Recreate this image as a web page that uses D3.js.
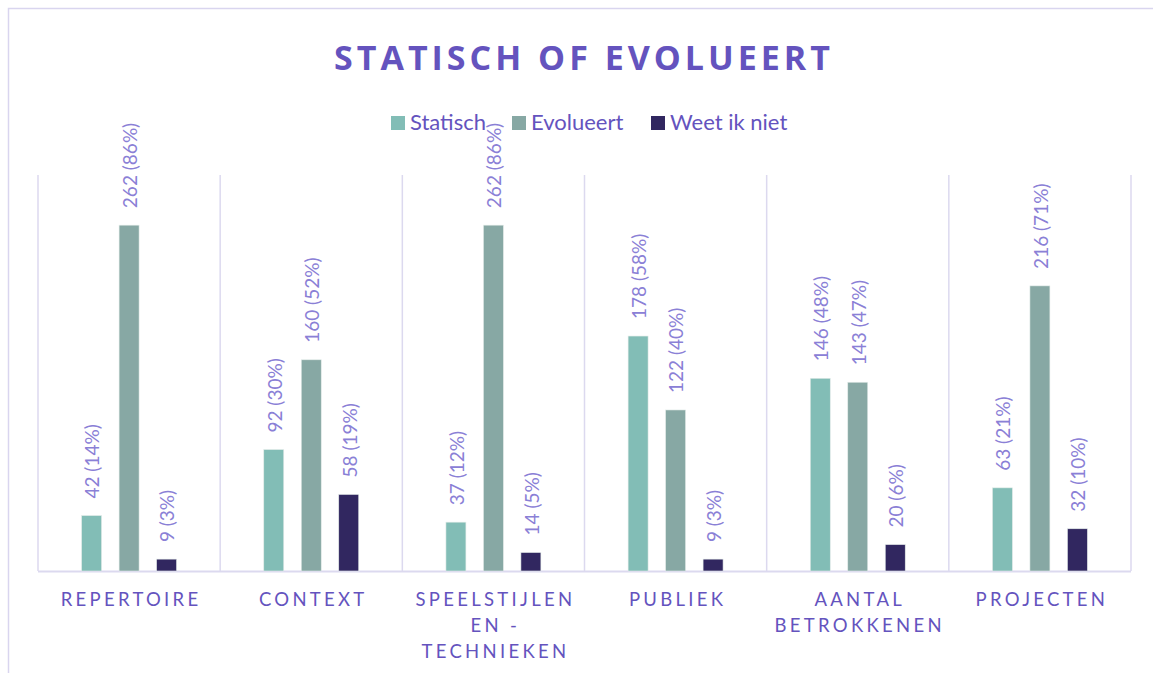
<!DOCTYPE html>
<html>
<head>
<meta charset="utf-8">
<script src="https://cdn.jsdelivr.net/npm/d3@7"></script>
<style>
  html, body { margin: 0; padding: 0; background: #fff; }
</style>
</head>
<body>
<svg id="chart"></svg>
<script>
// Data
const categories = ["REPERTOIRE", "CONTEXT", "SPEELSTIJLEN EN - TECHNIEKEN", "PUBLIEK", "AANTAL BETROKKENEN", "PROJECTEN"];
const categoryLines = [["REPERTOIRE"], ["CONTEXT"], ["SPEELSTIJLEN", "EN -", "TECHNIEKEN"], ["PUBLIEK"], ["AANTAL", "BETROKKENEN"], ["PROJECTEN"]];
const seriesNames = ["Statisch", "Evolueert", "Weet ik niet"];
const statisch = [42, 92, 37, 178, 146, 63];
const evolueert = [262, 160, 262, 122, 143, 216];
const weetIkNiet = [9, 58, 14, 9, 20, 32];
const statischPct = [14, 30, 12, 58, 48, 21];
const evolueertPct = [86, 52, 86, 40, 47, 71];
const weetIkNietPct = [3, 19, 5, 3, 6, 10];
const colors = ["#82bdb6", "#87a8a4", "#312760"];

const width = 1153;
const height = 673;
const marginTop = 175;
const marginRight = 22;
const marginBottom = 102;
const marginLeft = 38;

const values = [statisch, evolueert, weetIkNiet];
const pcts = [statischPct, evolueertPct, weetIkNietPct];
const data = [];
categories.forEach((c, i) => {
  seriesNames.forEach((s, j) => {
    data.push({ cat: c, series: s, value: values[j][i], pct: pcts[j][i], idx: j });
  });
});

const svg = d3.select("#chart")
  .attr("width", width)
  .attr("height", height)
  .attr("viewBox", [0, 0, width, height]);

// Chart border
svg.append("rect")
  .attr("x", 8.5).attr("y", 8.5)
  .attr("width", width + 10).attr("height", height + 10)
  .attr("fill", "none")
  .attr("stroke", "#d9d5ef")
  .attr("stroke-width", 1.5);

// Scales
const x = d3.scaleBand()
  .domain(categories)
  .range([marginLeft, width - marginRight]);

const xInner = d3.scaleBand()
  .domain(seriesNames)
  .range([0, x.bandwidth()])
  .paddingInner(0.467)
  .paddingOuter(1.163);

const y = d3.scaleLinear()
  .domain([0, 300])
  .range([height - marginBottom, marginTop]);

// Title
svg.append("text")
  .attr("x", 584)
  .attr("y", 70)
  .attr("text-anchor", "middle")
  .attr("fill", "#6453be")
  .attr("font-family", "'Open Sans', sans-serif")
  .attr("font-weight", "bold")
  .attr("font-size", 34)
  .attr("letter-spacing", 4)
  .text("STATISCH OF EVOLUEERT");

// Legend
const legendX = [391, 512, 651];
const legend = svg.append("g")
  .selectAll("g")
  .data(seriesNames)
  .join("g")
  .attr("transform", (d, i) => `translate(${legendX[i]},116)`);
legend.append("rect")
  .attr("width", 14).attr("height", 14)
  .attr("fill", (d, i) => colors[i]);
legend.append("text")
  .attr("x", 19).attr("y", 14)
  .attr("fill", "#6453be")
  .attr("font-family", "Lato, sans-serif")
  .attr("font-size", 22)
  .text((d) => d);

// Category separators
const grid = svg.append("g").attr("stroke", "#dcd9ef").attr("stroke-width", 1.5);
const seps = categories.map((c) => x(c)).concat([width - marginRight]);
grid.selectAll("line")
  .data(seps)
  .join("line")
  .attr("x1", (d) => d).attr("x2", (d) => d)
  .attr("y1", marginTop).attr("y2", height - marginBottom);
grid.append("line")
  .attr("x1", marginLeft).attr("x2", width - marginRight)
  .attr("y1", height - marginBottom + 0.5).attr("y2", height - marginBottom + 0.5)
  .attr("stroke-width", 2);

// Bars
svg.append("g")
  .selectAll("rect")
  .data(data)
  .join("rect")
  .attr("x", (d) => x(d.cat) + xInner(d.series))
  .attr("y", (d) => y(d.value))
  .attr("width", xInner.bandwidth())
  .attr("height", (d) => y(0) - y(d.value))
  .attr("fill", (d) => colors[d.idx])
  .attr("stroke", "#e4ece9")
  .attr("stroke-width", 0.6);

// Value labels
svg.append("g")
  .attr("fill", "#8a80d6")
  .attr("font-family", "Lato, sans-serif")
  .attr("font-size", 19)
  .selectAll("text")
  .data(data)
  .join("text")
  .attr("transform", (d) => {
    const cx = x(d.cat) + xInner(d.series) + xInner.bandwidth() / 2 + 1;
    return `translate(${cx},${y(d.value) - 17}) rotate(-90)`;
  })
  .attr("dy", "0.36em")
  .text((d) => `${d.value} (${d.pct}%)`);

// Category labels
const xAxis = svg.append("g")
  .attr("fill", "#6453be")
  .attr("font-family", "Lato, sans-serif")
  .attr("font-size", 18.5)
  .attr("letter-spacing", 3.3)
  .attr("text-anchor", "middle");
categories.forEach((c, i) => {
  const cx = x(c) + x.bandwidth() / 2 + 2;
  const t = xAxis.append("text")
    .attr("x", cx)
    .attr("y", 606);
  categoryLines[i].forEach((line, k) => {
    t.append("tspan")
      .attr("x", cx)
      .attr("dy", k === 0 ? 0 : 26)
      .text(line);
  });
});
</script>
</body>
</html>
